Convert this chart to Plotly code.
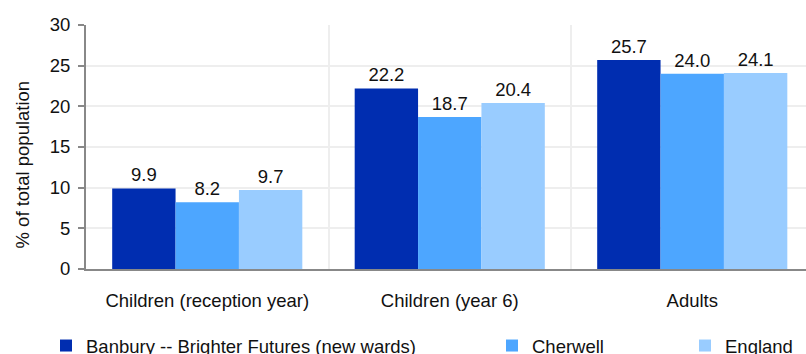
import plotly.graph_objects as go

categories = ["Children (reception year)", "Children (year 6)", "Adults"]
series_names = ["Banbury -- Brighter Futures (new wards)", "Cherwell", "England"]
banbury = [9.9, 22.2, 25.7]
cherwell = [8.2, 18.7, 24.0]
england = [9.7, 20.4, 24.1]
colors = ["#002DB0", "#4DA6FF", "#99CCFF"]
y_ticks = [0, 5, 10, 15, 20, 25, 30]

FONT = "Liberation Sans, Arial, Helvetica, sans-serif"
FS = 18.5

fig = go.Figure()
legend_ids = ["legend", "legend2", "legend3"]
for name, vals, col, lg in zip(series_names, [banbury, cherwell, england], colors, legend_ids):
    fig.add_trace(go.Bar(
        x=categories, y=vals, name=name, marker_color=col, marker_line_width=0,
        text=[f"{v:.1f}" for v in vals], textposition="outside",
        textfont=dict(size=FS, color="#111111", family=FONT),
        cliponaxis=False, legend=lg, showlegend=True,
    ))

legend_common = dict(orientation="h", yanchor="middle", xanchor="left",
                     font=dict(size=FS, color="#111111", family=FONT),
                     bgcolor="rgba(0,0,0,0)", itemwidth=30)
W, H = 806, 354
L, R, T, B = 86, 0, 25, 85
pw, ph = W - L - R, H - T - B
ly = (H - B - 346) / ph

def lx(px):
    return (px - L) / pw

fig.update_layout(
    width=W, height=H, showlegend=True,
    margin=dict(l=L, r=R, t=T, b=B, autoexpand=False),
    paper_bgcolor="white", plot_bgcolor="white",
    barmode="group", bargap=0.216, bargroupgap=0,
    font=dict(family=FONT, size=FS, color="#111111"),
    legend=dict(legend_common, x=lx(46), y=ly),
    legend2=dict(legend_common, x=lx(492), y=ly),
    legend3=dict(legend_common, x=lx(685), y=ly),
    xaxis=dict(
        type="category", range=[-0.5, -0.5 + pw / 242.5],
        tickson="boundaries", showgrid=True, gridcolor="#eeeeee", gridwidth=2,
        ticks="", showline=True, linecolor="#888888", linewidth=2,
        tickfont=dict(size=FS, color="#111111"), ticklabelstandoff=14,
    ),
    yaxis=dict(
        range=[0, 30], tickvals=y_ticks, showgrid=True, gridcolor="#eeeeee", gridwidth=2,
        showline=True, linecolor="#888888", linewidth=2, ticks="outside", ticklen=6,
        tickcolor="#888888", tickwidth=2, zeroline=False,
        tickfont=dict(size=FS, color="#111111"), ticklabelstandoff=4,
    ),
    annotations=[dict(
        text="% of total population", textangle=-90, showarrow=False,
        xref="paper", yref="paper", x=(22 - L) / pw, y=(H - B - 164.5) / ph,
        xanchor="center", yanchor="middle", font=dict(size=FS, color="#111111", family=FONT),
    )],
)

fig.write_html("out.html")
